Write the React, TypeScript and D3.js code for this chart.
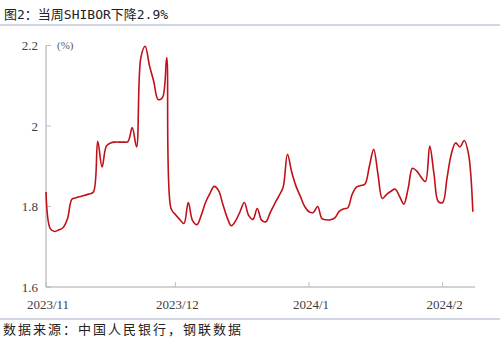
import React from "react";
import * as d3 from "d3";

// Day offsets from 2023-11-01 and SHIBOR values (%)
const dayOffsets = [
  0, 1, 2, 3, 4, 5, 6, 7, 8, 9, 10, 11, 12, 13, 14, 15, 16, 17, 18, 19,
  20, 21, 22, 23, 24, 25, 26, 27, 28, 29, 30, 31, 32, 33, 34, 35, 36, 37, 38, 39,
  40, 41, 42, 43, 44, 45, 46, 47, 48, 49, 50, 51, 52, 53, 54, 55, 56, 57, 58, 59,
  60, 61, 62, 63, 64, 65, 66, 67, 68, 69, 70, 71, 72, 73, 74, 75, 76, 77, 78, 79,
  80, 81, 82, 83, 84, 85, 86, 87, 88, 89, 90, 91, 92, 93, 94, 95, 96, 97, 98, 99,
];
const shiborValues = [
  1.836, 1.745, 1.738, 1.742, 1.748, 1.77, 1.818, 1.822, 1.825, 1.828, 1.831, 1.836, 1.962, 1.898, 1.95, 1.958, 1.96, 1.96, 1.96, 1.961,
  1.996, 1.948, 2.17, 2.198, 2.15, 2.11, 2.066, 2.07, 2.17, 1.795, 1.78, 1.768, 1.758, 1.81, 1.765, 1.755, 1.778, 1.81, 1.832, 1.85,
  1.84, 1.806, 1.773, 1.752, 1.765, 1.787, 1.81, 1.778, 1.768, 1.795, 1.766, 1.762, 1.785, 1.806, 1.826, 1.848, 1.93, 1.885, 1.85, 1.825,
  1.8, 1.787, 1.785, 1.8, 1.77, 1.767, 1.767, 1.772, 1.788, 1.794, 1.797, 1.83, 1.848, 1.852, 1.856, 1.9, 1.942, 1.88, 1.82, 1.83,
  1.838, 1.843, 1.825, 1.806, 1.845, 1.895, 1.888, 1.873, 1.862, 1.95, 1.88, 1.812, 1.81, 1.87, 1.93, 1.958, 1.948, 1.964, 1.93, 1.787,
];
const yTicks = [1.6, 1.8, 2, 2.2];
const xTickLabels = ["2023/11", "2023/12", "2024/1", "2024/2"];
const xTickDates = ["2023-11-01", "2023-12-01", "2024-01-01", "2024-02-01"];

const titleText = "图2：当周SHIBOR下降2.9%";
const sourceText = "数据来源：中国人民银行，钢联数据";
const unitText = "(%)";

const startDate = new Date(2023, 10, 1);
const parseDay = d3.timeParse("%Y-%m-%d");

export default function App() {
  const W = 500;
  const H = 346;
  const left = 46;
  const right = 475;
  const top = 45.5;
  const bottom = 287;

  const x = d3
    .scaleTime()
    .domain([startDate, new Date(2024, 1, 8, 12)])
    .range([left, right]);
  const y = d3.scaleLinear().domain([1.6, 2.2]).range([bottom, top]);

  const data = dayOffsets.map((d, i) => ({
    date: d3.timeDay.offset(startDate, d),
    v: shiborValues[i],
  }));

  const line = d3
    .line<{ date: Date; v: number }>()
    .x((d) => x(d.date))
    .y((d) => y(d.v))
    .curve(d3.curveCatmullRom.alpha(0.5));

  const serif = "'Liberation Serif', 'Times New Roman', serif";
  const cjk = "'DejaVu Sans Mono', 'Noto Sans CJK SC', sans-serif";

  return (
    <svg
      width={W}
      height={H}
      style={{ position: "absolute", left: 0, top: 0, background: "#fff" }}
    >
      <text x={4} y={19} fontFamily={cjk} fontSize={13} fill="#222">
        {titleText}
      </text>
      <line x1={0} x2={W} y1={25} y2={25} stroke="#a3adca" strokeWidth={1.2} />

      {/* y axis */}
      <line x1={left} x2={left} y1={top} y2={bottom} stroke="#a6a6a6" strokeWidth={1} />
      {yTicks.map((t) => (
        <g key={t}>
          <line x1={left} x2={left + 5} y1={y(t)} y2={y(t)} stroke="#bfbfbf" strokeWidth={1} />
          <text
            x={38}
            y={y(t)}
            dy="0.35em"
            textAnchor="end"
            fontFamily={serif}
            fontSize={13}
            fill="#404040"
          >
            {d3.format("")(t)}
          </text>
        </g>
      ))}
      <text x={57} y={y(2.2)} dy="0.35em" fontFamily={serif} fontSize={11} fill="#595959">
        {unitText}
      </text>

      {/* x axis */}
      <line x1={left} x2={right} y1={bottom} y2={bottom} stroke="#a6a6a6" strokeWidth={1} />
      {xTickDates.map((ds, i) => {
        const xx = x(parseDay(ds) as Date);
        return (
          <g key={ds}>
            <line x1={xx} x2={xx} y1={bottom} y2={bottom - 5} stroke="#bfbfbf" strokeWidth={1} />
            <text
              x={xx + 2}
              y={309}
              textAnchor="middle"
              fontFamily={serif}
              fontSize={13}
              fill="#404040"
            >
              {xTickLabels[i]}
            </text>
          </g>
        );
      })}

      <path d={line(data) || ""} fill="none" stroke="#c0101a" strokeWidth={1.6} strokeLinejoin="round" />

      <line x1={0} x2={W} y1={319} y2={319} stroke="#a3adca" strokeWidth={1.2} />
      <text
        x={3}
        y={334}
        fontFamily="'Noto Sans CJK SC', sans-serif"
        fontSize={13}
        letterSpacing={2}
        fill="#222"
      >
        {sourceText}
      </text>
    </svg>
  );
}
